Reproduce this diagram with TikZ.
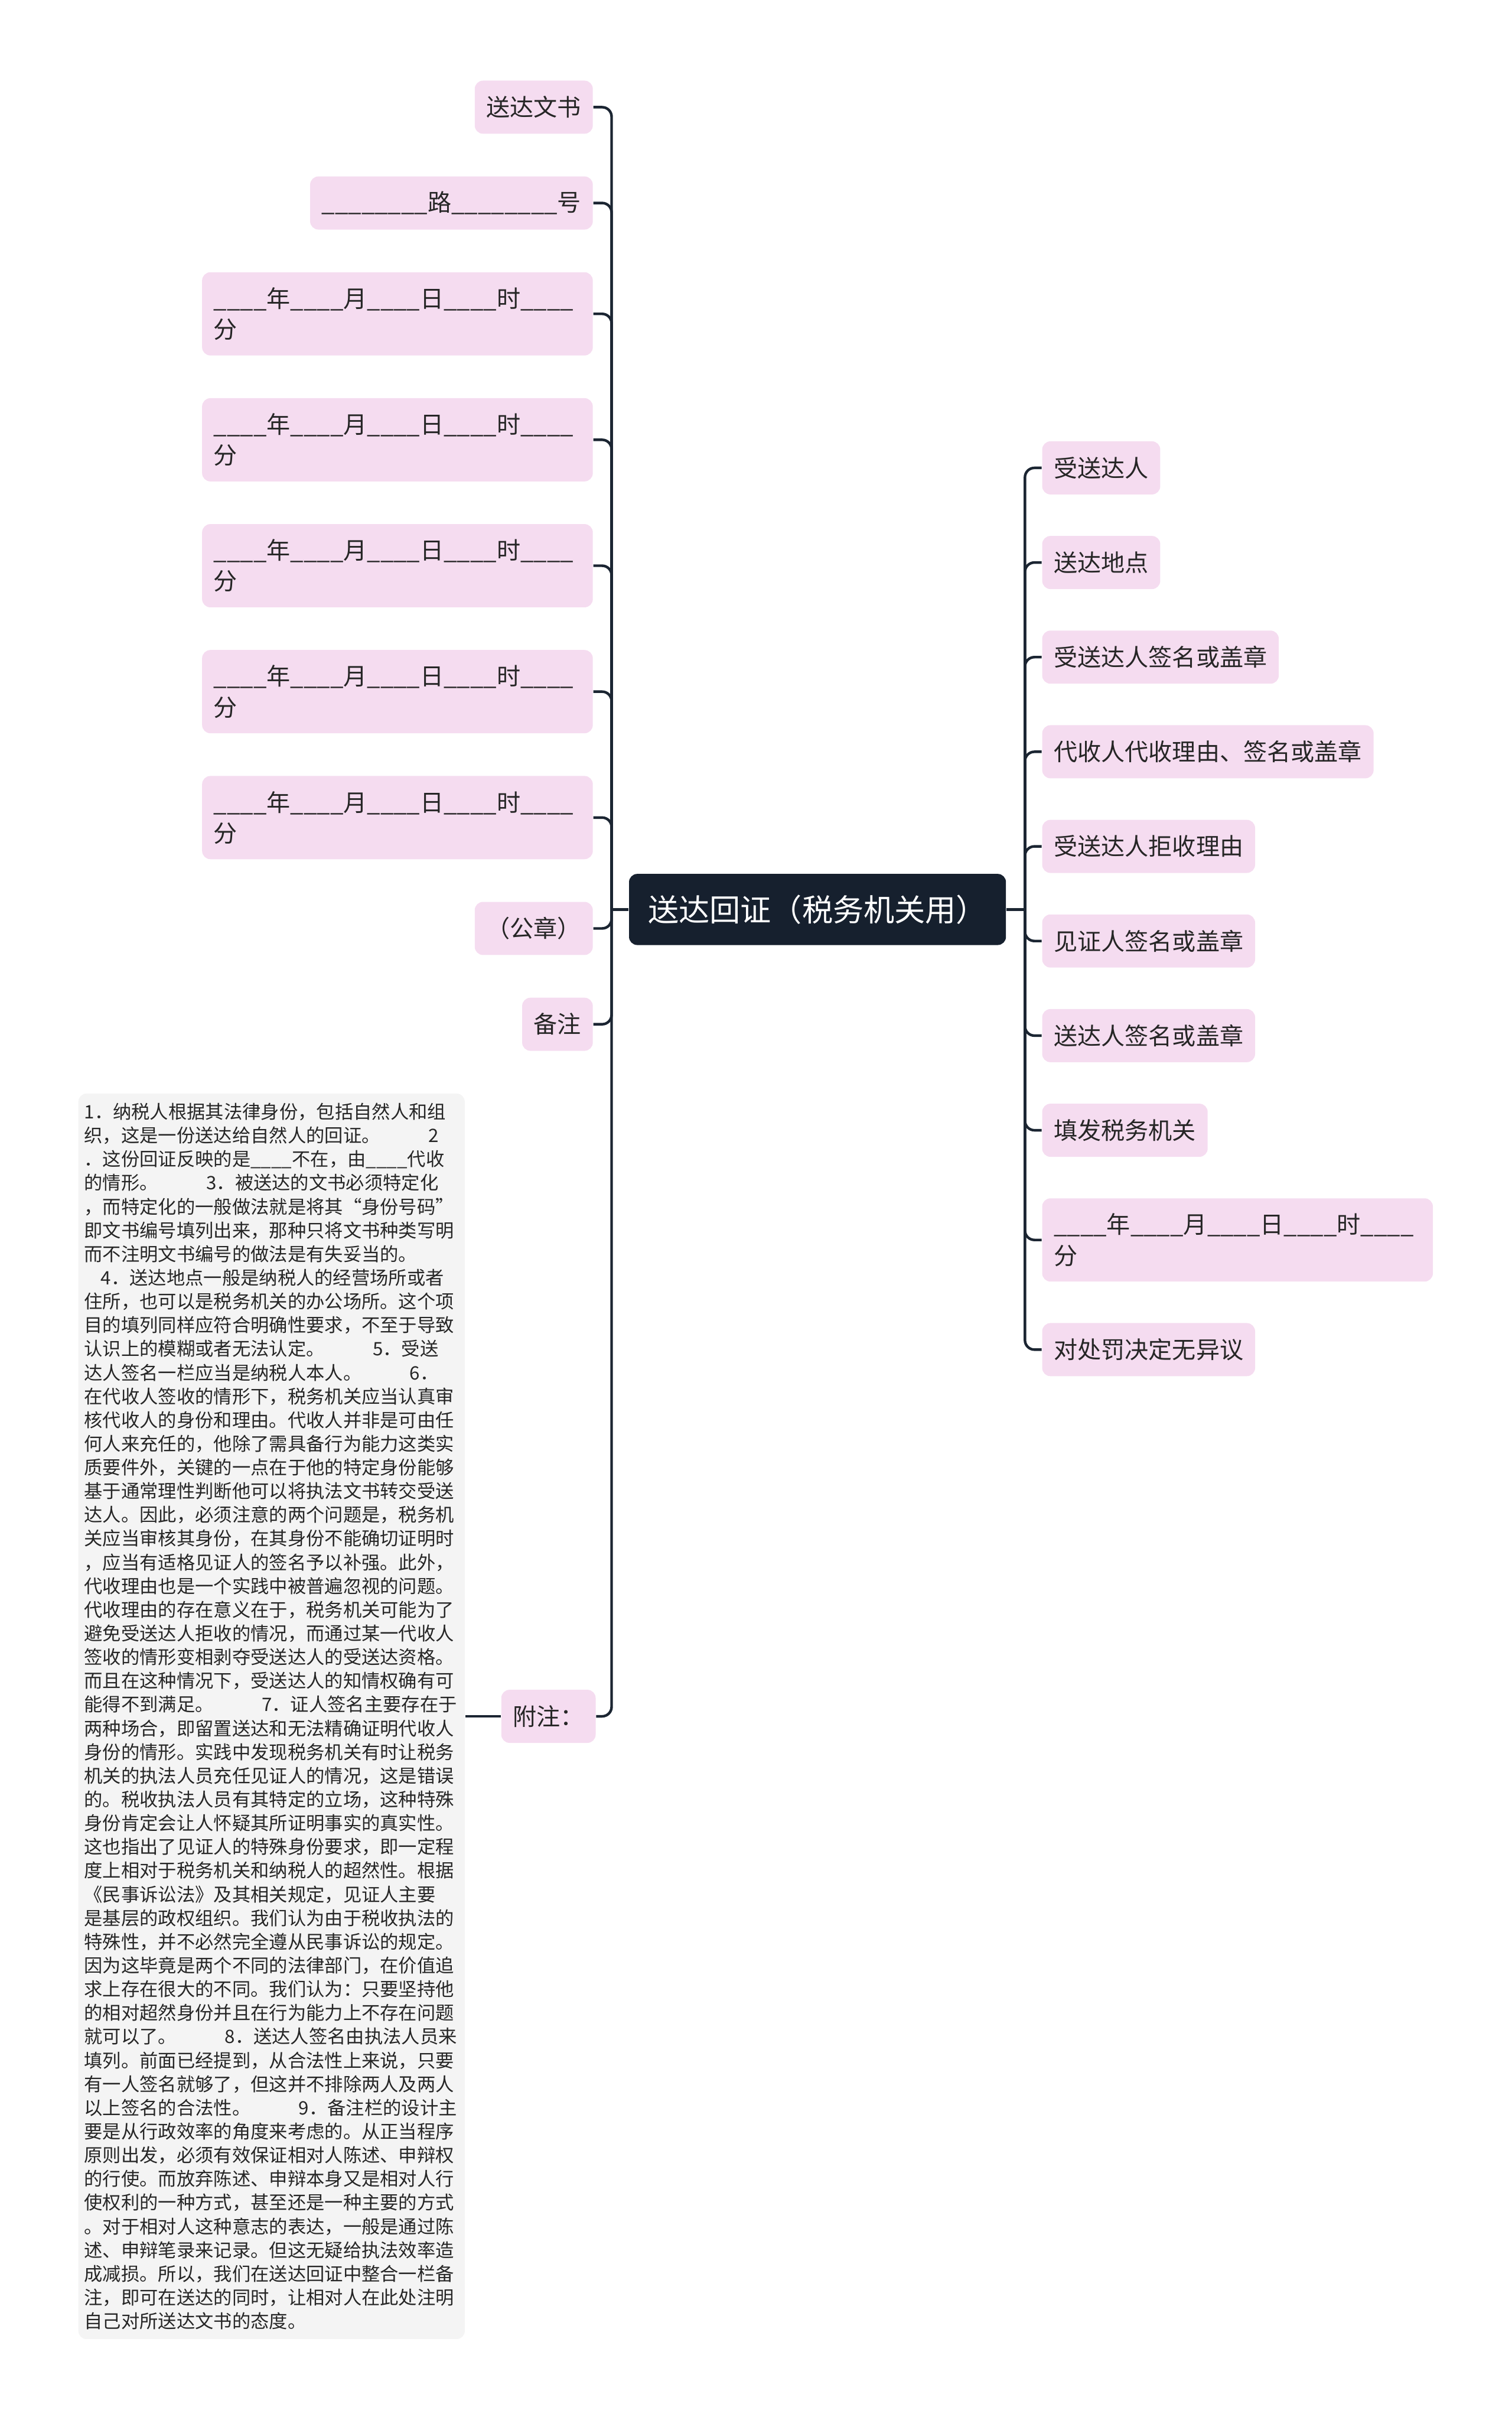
\documentclass[tikz,border=0pt]{standalone}
\usepackage{fontspec}
\setmainfont{Noto Sans CJK SC}
\usepackage{tikz}
\usetikzlibrary{positioning,calc}
\definecolor{rootnavy}{HTML}{16202E}
\definecolor{leafpink}{HTML}{F5DCF0}
\definecolor{linkdark}{HTML}{1B2532}
\definecolor{notegray}{HTML}{F4F4F4}
\definecolor{inktext}{HTML}{262626}
\tikzstyle{root} = [rectangle, rounded corners=3.5pt, fill=rootnavy, text=white,
    minimum width=159pt, minimum height=30pt, font=\fontsize{13}{15}\selectfont]
\tikzstyle{leaf} = [rectangle, rounded corners=3.5pt, fill=leafpink, text=inktext,
    inner xsep=4.9pt, inner ysep=6pt, minimum height=22.4pt, font=\fontsize{10}{13}\selectfont]
\tikzstyle{datebox} = [leaf, text width=155pt, align=left, minimum height=35.1pt]
\tikzstyle{notebox} = [rectangle, rounded corners=3.5pt, fill=notegray, text=inktext,
    inner xsep=2.5pt, inner ysep=4pt, text width=158pt, align=left, font=\fontsize{7.8}{10}\selectfont]
\tikzstyle{link} = [draw=linkdark, line width=1.1pt, rounded corners=4pt]
\newcommand{\blanktime}{\_\_\_\_年\_\_\_\_月\_\_\_\_日\_\_\_\_时\_\_\_\_\\分}
\newcommand{\numgap}{\hspace{2.6em}}

\begin{document}
\begin{tikzpicture}[x=0.65pt, y=-0.65pt, node distance=17.6pt]
\useasboundingbox (0,0) rectangle (981,1568);
\node[root] (root) at (530.5,590) {送达回证（税务机关用）};
\coordinate (ltrunk) at ($(root.west)+(-11,0)$);
\coordinate (rtrunk) at ($(root.east)+(12,0)$);

\node[leaf, anchor=north east] (doc) at (385,52) {送达文书};
\node[leaf, below=of doc.south east, anchor=north east] (road) {\_\_\_\_\_\_\_\_路\_\_\_\_\_\_\_\_号};
\node[datebox, below=of road.south east, anchor=north east] (time1) {\blanktime};
\node[datebox, below=of time1.south east, anchor=north east] (time2) {\blanktime};
\node[datebox, below=of time2.south east, anchor=north east] (time3) {\blanktime};
\node[datebox, below=of time3.south east, anchor=north east] (time4) {\blanktime};
\node[datebox, below=of time4.south east, anchor=north east] (time5) {\blanktime};
\node[leaf, below=of time5.south east, anchor=north east] (seal) {（公章）};
\node[leaf, below=of seal.south east, anchor=north east] (remark) {备注};
\node[notebox, below=of remark.south east, anchor=north east, xshift=-54pt] (note) {%
1．纳税人根据其法律身份，包括自然人和组\\
织，这是一份送达给自然人的回证。\numgap 2\\
．这份回证反映的是\_\_\_\_不在，由\_\_\_\_代收\\
的情形。\numgap 3．被送达的文书必须特定化\\
，而特定化的一般做法就是将其“身份号码”\\
即文书编号填列出来，那种只将文书种类写明\\
而不注明文书编号的做法是有失妥当的。\\
\hspace*{0.9em}4．送达地点一般是纳税人的经营场所或者\\
住所，也可以是税务机关的办公场所。这个项\\
目的填列同样应符合明确性要求，不至于导致\\
认识上的模糊或者无法认定。\numgap 5．受送\\
达人签名一栏应当是纳税人本人。\numgap 6．\\
在代收人签收的情形下，税务机关应当认真审\\
核代收人的身份和理由。代收人并非是可由任\\
何人来充任的，他除了需具备行为能力这类实\\
质要件外，关键的一点在于他的特定身份能够\\
基于通常理性判断他可以将执法文书转交受送\\
达人。因此，必须注意的两个问题是，税务机\\
关应当审核其身份，在其身份不能确切证明时\\
，应当有适格见证人的签名予以补强。此外，\\
代收理由也是一个实践中被普遍忽视的问题。\\
代收理由的存在意义在于，税务机关可能为了\\
避免受送达人拒收的情况，而通过某一代收人\\
签收的情形变相剥夺受送达人的受送达资格。\\
而且在这种情况下，受送达人的知情权确有可\\
能得不到满足。\numgap 7．证人签名主要存在于\\
两种场合，即留置送达和无法精确证明代收人\\
身份的情形。实践中发现税务机关有时让税务\\
机关的执法人员充任见证人的情况，这是错误\\
的。税收执法人员有其特定的立场，这种特殊\\
身份肯定会让人怀疑其所证明事实的真实性。\\
这也指出了见证人的特殊身份要求，即一定程\\
度上相对于税务机关和纳税人的超然性。根据\\
《民事诉讼法》及其相关规定，见证人主要\\
是基层的政权组织。我们认为由于税收执法的\\
特殊性，并不必然完全遵从民事诉讼的规定。\\
因为这毕竟是两个不同的法律部门，在价值追\\
求上存在很大的不同。我们认为：只要坚持他\\
的相对超然身份并且在行为能力上不存在问题\\
就可以了。\numgap 8．送达人签名由执法人员来\\
填列。前面已经提到，从合法性上来说，只要\\
有一人签名就够了，但这并不排除两人及两人\\
以上签名的合法性。\numgap 9．备注栏的设计主\\
要是从行政效率的角度来考虑的。从正当程序\\
原则出发，必须有效保证相对人陈述、申辩权\\
的行使。而放弃陈述、申辩本身又是相对人行\\
使权利的一种方式，甚至还是一种主要的方式\\
。对于相对人这种意志的表达，一般是通过陈\\
述、申辩笔录来记录。但这无疑给执法效率造\\
成减损。所以，我们在送达回证中整合一栏备\\
注，即可在送达的同时，让相对人在此处注明\\
自己对所送达文书的态度。};
\node[leaf, right=15pt of note] (annex) {附注：};

\node[leaf, anchor=north west] (rcpt) at (676,286) {受送达人};
\node[leaf, below=17.1pt of rcpt.south west, anchor=north west] (place) {送达地点};
\node[leaf, below=17.1pt of place.south west, anchor=north west] (rsign) {受送达人签名或盖章};
\node[leaf, below=17.1pt of rsign.south west, anchor=north west] (proxy) {代收人代收理由、签名或盖章};
\node[leaf, below=17.1pt of proxy.south west, anchor=north west] (refuse) {受送达人拒收理由};
\node[leaf, below=17.1pt of refuse.south west, anchor=north west] (witness) {见证人签名或盖章};
\node[leaf, below=17.1pt of witness.south west, anchor=north west] (server) {送达人签名或盖章};
\node[leaf, below=17.1pt of server.south west, anchor=north west] (issuer) {填发税务机关};
\node[datebox, below=17.1pt of issuer.south west, anchor=north west] (rtime) {\blanktime};
\node[leaf, below=17.1pt of rtime.south west, anchor=north west] (noobj) {对处罚决定无异议};

\draw[link] (root.west) -- (ltrunk);
\draw[link] (root.east) -- (rtrunk);
\draw[link] (doc.east) -| (ltrunk);
\draw[link] (road.east) -| (ltrunk);
\draw[link] (time1.east) -| (ltrunk);
\draw[link] (time2.east) -| (ltrunk);
\draw[link] (time3.east) -| (ltrunk);
\draw[link] (time4.east) -| (ltrunk);
\draw[link] (time5.east) -| (ltrunk);
\draw[link] (seal.east) -| (ltrunk);
\draw[link] (remark.east) -| (ltrunk);
\draw[link] (annex.east) -| (ltrunk);
\draw[link] (annex.west) -- (note.east);
\draw[link] (rcpt.west) -| (rtrunk);
\draw[link] (place.west) -| (rtrunk);
\draw[link] (rsign.west) -| (rtrunk);
\draw[link] (proxy.west) -| (rtrunk);
\draw[link] (refuse.west) -| (rtrunk);
\draw[link] (witness.west) -| (rtrunk);
\draw[link] (server.west) -| (rtrunk);
\draw[link] (issuer.west) -| (rtrunk);
\draw[link] (rtime.west) -| (rtrunk);
\draw[link] (noobj.west) -| (rtrunk);
\end{tikzpicture}
\end{document}
